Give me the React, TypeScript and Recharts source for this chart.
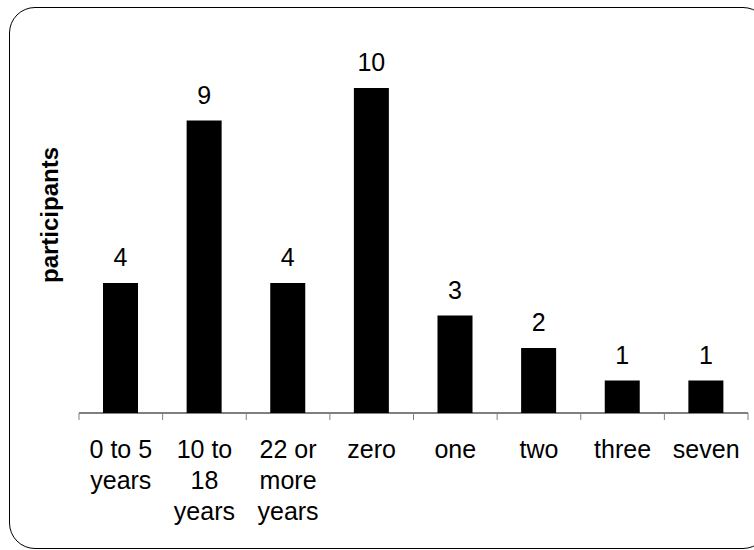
import { Bar, BarChart, LabelList, XAxis, YAxis } from "recharts"

const categories = [
  "0 to 5\nyears",
  "10 to\n18\nyears",
  "22 or\nmore\nyears",
  "zero",
  "one",
  "two",
  "three",
  "seven",
]
const participants = [4, 9, 4, 10, 3, 2, 1, 1]
const yDomain = [0, 12]

const data = categories.map((name, i) => ({ name, value: participants[i] }))

const FONT = '"Liberation Sans", Arial, sans-serif'

function CategoryTick(props: any) {
  const { x, y, payload, index, width, visibleTicksCount } = props
  const half =
    payload?.offset || (width && visibleTicksCount ? width / visibleTicksCount / 2 : 0)
  const lines = String(payload.value).split("\n")
  return (
    <g>
      {index === 0 && (
        <line x1={x - half} x2={x - half} y1={y} y2={y + 7} stroke="#808080" />
      )}
      <line x1={x + half} x2={x + half} y1={y} y2={y + 7} stroke="#808080" />
      <text x={x} y={y + 45} textAnchor="middle" fontSize={25} fill="#000">
        {lines.map((l, i) => (
          <tspan key={i} x={x} dy={i === 0 ? 0 : 31}>
            {l}
          </tspan>
        ))}
      </text>
    </g>
  )
}

function YTitle(props: any) {
  const { viewBox } = props
  const cx = viewBox.x + 58
  const cy = 215
  return (
    <text
      x={cx}
      y={cy}
      transform={`rotate(-90, ${cx}, ${cy})`}
      textAnchor="middle"
      fontSize={24}
      fontWeight="bold"
      fill="#000"
    >
      participants
    </text>
  )
}

export default function App() {
  return (
    <div
      style={{
        position: "fixed",
        top: 0,
        left: 0,
        width: 754,
        height: 550,
        overflow: "hidden",
        background: "#fff",
        fontFamily: FONT,
      }}
    >
      <div
        style={{
          position: "absolute",
          left: 9,
          top: 7,
          width: 760,
          height: 542,
          border: "1.5px solid #000",
          borderRadius: 26,
          boxSizing: "border-box",
        }}
      />
      <div style={{ position: "absolute", left: 0, top: 0 }}>
        <BarChart
          width={754}
          height={550}
          data={data}
          margin={{ top: 23, right: 6, left: 0, bottom: 0 }}
        >
          <XAxis
            dataKey="name"
            interval={0}
            height={137}
            tickLine={false}
            tickSize={0}
            tickMargin={0}
            axisLine={{ stroke: "#000", strokeWidth: 1 }}
            tick={<CategoryTick />}
          />
          <YAxis
            width={79}
            domain={yDomain}
            tick={false}
            tickLine={false}
            axisLine={false}
            label={{ content: <YTitle /> }}
          />
          <Bar dataKey="value" fill="#000" barSize={35} isAnimationActive={false}>
            <LabelList
              dataKey="value"
              position="top"
              offset={17}
              fontSize={25}
              fill="#000"
            />
          </Bar>
        </BarChart>
      </div>
    </div>
  )
}
